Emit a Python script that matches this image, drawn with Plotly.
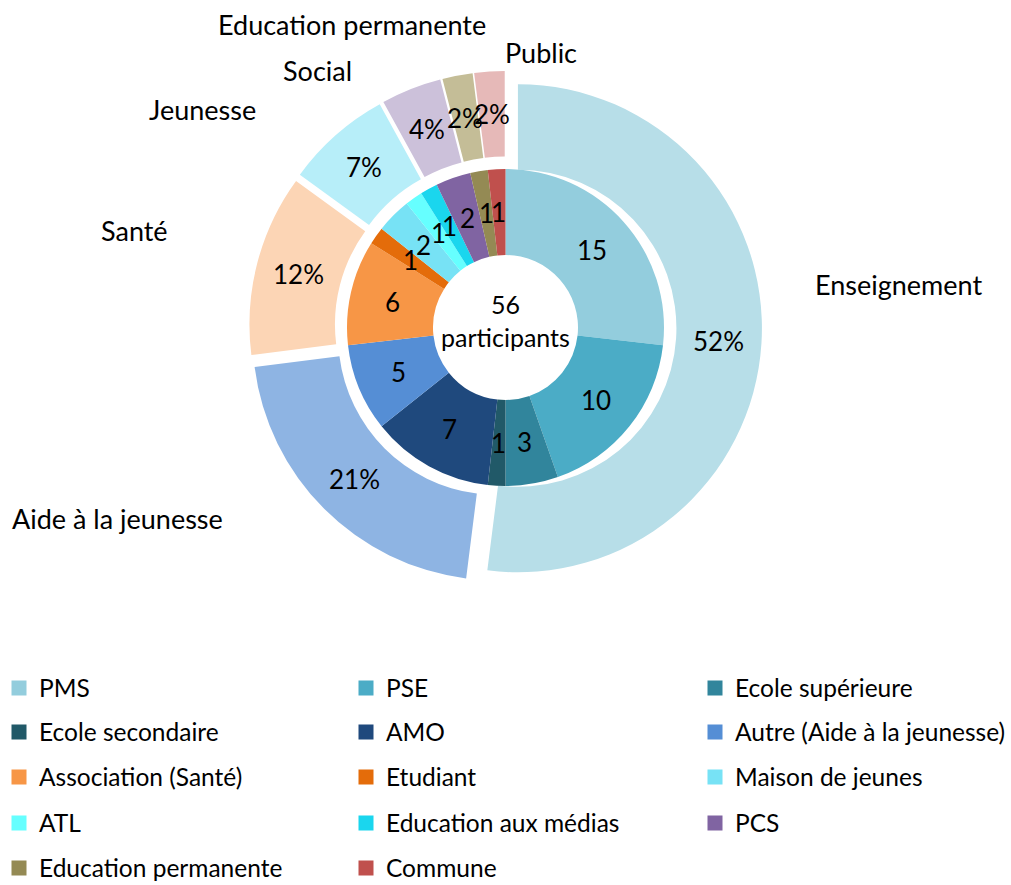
import math
import plotly.graph_objects as go

# ---------------- data ----------------
inner_labels = ["PMS", "PSE", "Ecole supérieure", "Ecole secondaire", "AMO",
                "Autre (Aide à la jeunesse)", "Association (Santé)", "Etudiant",
                "Maison de jeunes", "ATL", "Education aux médias", "PCS",
                "Education permanente", "Commune"]
inner_values = [15, 10, 3, 1, 7, 5, 6, 1, 2, 1, 1, 2, 1, 1]

outer_labels = ["Enseignement", "Aide à la jeunesse", "Santé", "Jeunesse",
                "Social", "Education permanente", "Public"]
outer_pct = [52, 21, 12, 7, 4, 2, 2]

# ---------------- styles ----------------
inner_colors = ["#93CDDD", "#4BACC6", "#31859C", "#215968", "#1F497D",
                "#558ED5", "#F79646", "#E46C0A", "#77E2F5", "#66FFFF",
                "#1AD6EE", "#8064A2", "#948A54", "#C0504D"]
outer_colors = ["#B7DEE8", "#8EB4E3", "#FCD5B5", "#B7EEF9", "#CCC1DA",
                "#C4BD97", "#E6B9B8"]
# category label centre positions in pixels (x, y from top)
outer_label_px = [(898, 284), (117, 518), (134, 230), (202, 109),
                  (317, 70), (352, 24), (541, 52)]
center_label_y = 320

W, H = 1011, 885
FONT = "Lato, Carlito, Calibri, sans-serif"
FS_CAT = 27
FS_NUM = 26
FS_CENTER = 25
FS_LEG = 24.5

cx, cy = 505.5, 327.5
r_in, r_out, r_hole, pull = 158.5, 244.0, 72.5, 0.051
r_text_in = 116
r_text_out = (r_in + r_out) / 2 + pull * r_out

# legend grid (pixels): text start x of each column, line centre y of each row
legend_text_x = [37, 384, 733]
legend_row_y = [688, 732, 777, 823, 868]


def dom(r, pullf=0.0):
    half = r * (1 + pullf)
    return dict(x=[(cx - half) / W, (cx + half) / W],
                y=[1 - (cy + half) / H, 1 - (cy - half) / H])


def mid_angles(vals):
    tot = float(sum(vals))
    out, acc = [], 0.0
    for v in vals:
        out.append(2 * math.pi * (acc + v / 2.0) / tot)
        acc += v
    return out


fig = go.Figure()

fig.add_trace(go.Pie(
    labels=outer_labels, values=outer_pct, textinfo="none",
    sort=False, direction="clockwise", rotation=0,
    hole=r_in / r_out, pull=[pull] * len(outer_pct),
    domain=dom(r_out, pull),
    marker=dict(colors=outer_colors, line=dict(width=0)),
    showlegend=False, hoverinfo="label+percent",
))

fig.add_trace(go.Pie(
    labels=inner_labels, values=inner_values, textinfo="none",
    sort=False, direction="clockwise", rotation=0,
    hole=r_hole / r_in, domain=dom(r_in),
    marker=dict(colors=inner_colors, line=dict(width=0)),
    showlegend=False, hoverinfo="label+value",
))


def add_text(txt, px, py, size):
    fig.add_annotation(text=txt, x=px / W, y=1 - py / H, xref="paper", yref="paper",
                       xanchor="center", yanchor="middle", showarrow=False,
                       font=dict(family=FONT, size=size, color="#000000"))


# data labels, placed at the middle of each ring slice
for v, a in zip(inner_values, mid_angles(inner_values)):
    add_text(str(v), cx + r_text_in * math.sin(a), cy - r_text_in * math.cos(a), FS_NUM)
for p, a in zip(outer_pct, mid_angles(outer_pct)):
    add_text(f"{p}%", cx + r_text_out * math.sin(a), cy - r_text_out * math.cos(a), FS_NUM)

# centre text
add_text(f"{sum(inner_values)}<br>participants", cx, center_label_y, FS_CENTER)

# outer category labels
for lab, (px, py) in zip(outer_labels, outer_label_px):
    add_text(lab, px, py, FS_CAT)

# legend: one legend per entry, laid out as 5 rows x 3 columns
layout_legends = {}
for i, (lab, col) in enumerate(zip(inner_labels, inner_colors)):
    name = "legend" if i == 0 else f"legend{i + 1}"
    fig.add_trace(go.Scatter(
        x=[None], y=[None], mode="markers", name=lab,
        marker=dict(symbol="square", size=15, color=col),
        legend=name, showlegend=True, hoverinfo="skip"))
    lx = legend_text_x[i % 3] - 38
    ly = legend_row_y[i // 3]
    layout_legends[name] = dict(
        orientation="v", x=lx / W, xanchor="left", y=1 - ly / H, yanchor="middle",
        xref="paper", yref="paper",
        font=dict(family=FONT, size=FS_LEG, color="#000000"),
        bgcolor="rgba(0,0,0,0)", itemclick=False, itemdoubleclick=False)

fig.update_layout(
    width=W, height=H,
    margin=dict(l=0, r=0, t=0, b=0, autoexpand=False),
    paper_bgcolor="white", plot_bgcolor="white",
    xaxis=dict(visible=False), yaxis=dict(visible=False),
    font=dict(family=FONT, size=FS_NUM, color="#000000"),
    **layout_legends,
)

fig.write_html("out.html", config={"displayModeBar": False},
               post_script="document.body.style.margin='0';")
